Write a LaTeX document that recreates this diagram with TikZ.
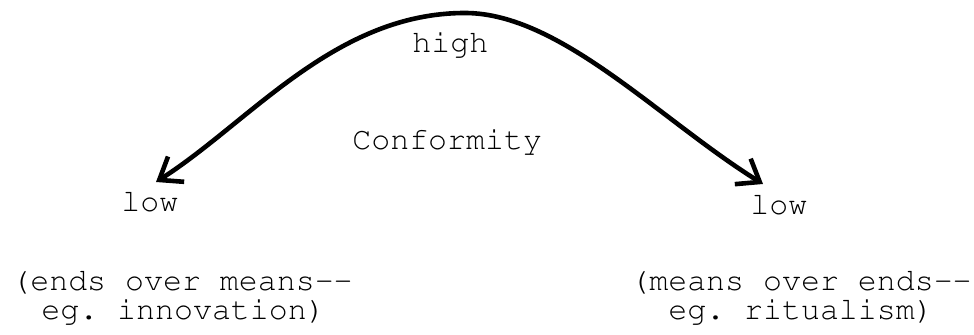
\documentclass[tikz,border=0pt]{standalone}
\usepackage[T1]{fontenc}
\renewcommand{\ttdefault}{pcr}
\usetikzlibrary{arrows.meta}
\frenchspacing

\begin{document}
\begin{tikzpicture}[
    x=0.5pt, y=-0.5pt,
    lbl/.style={font=\ttfamily\fontsize{15.8}{14.5}\selectfont,
      inner sep=0pt, anchor=base west, align=left},
    swing/.style={line width=2.3pt, line cap=round,
      {Straight Barb[length=10pt,width=15pt]}-{Straight Barb[length=10pt,width=15pt]}}
  ]
    \useasboundingbox (0,0) rectangle (974,335);

    \node[lbl] (high) at (412,53) {high};
    \node[lbl] (conf) at (352,150) {Conformity};
    \node[lbl] (lowL) at (121,212) {low};
    \node[lbl] (lowR) at (750,215) {low};
    \node[lbl] (endsL) at (11,320) {(ends over means-{}-\\\hspace*{0.95em}eg. innovation)};
    \node[lbl] (endsR) at (630,320) {(means over ends-{}-\\\hspace*{1.2em}eg. ritualism)};

    \coordinate (tipL) at (156,182);
    \coordinate (peak) at (465,13);
    \coordinate (tipR) at (763,184);

    \draw[swing] (tipL) .. controls (250,122) and (335,13) .. (peak)
                        .. controls (560,13) and (660,120) .. (tipR);
\end{tikzpicture}
\end{document}
